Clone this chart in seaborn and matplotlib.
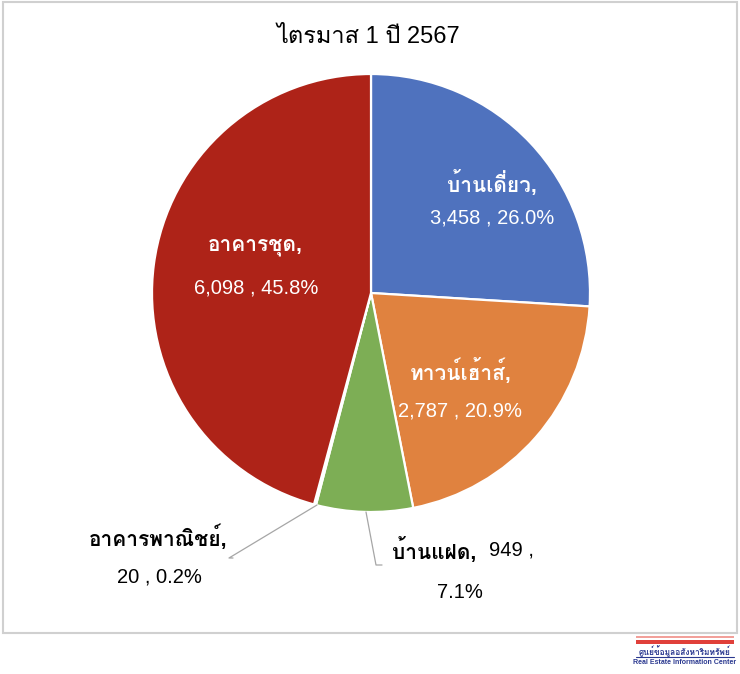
import matplotlib
matplotlib.use("Agg")
import matplotlib.pyplot as plt
import matplotlib.patches as mpatches
from matplotlib.lines import Line2D
import seaborn as sns

# data
categories = ["บ้านเดี่ยว", "ทาวน์เฮ้าส์", "บ้านแฝด", "อาคารพาณิชย์", "อาคารชุด"]
units = [3458, 2787, 949, 20, 6098]
shares = [26.0, 20.9, 7.1, 0.2, 45.8]
title = "ไตรมาส 1 ปี 2567"

sns.set_theme(style="white")
plt.rcParams["font.family"] = ["Liberation Sans", "Loma"]

colors = sns.color_palette(["#4F72BE", "#E0823F", "#7DAE55", "#FFC000", "#AE2318"])

W, H = 740, 674
cx, cy, r = 371, 293, 219   # pie centre / radius in pixels

fig = plt.figure(figsize=(W / 100, H / 100), dpi=100)
ax = fig.add_axes([0, 0, 1, 1])
ax.pie(units, colors=colors, startangle=90, counterclock=False, radius=1,
       wedgeprops=dict(edgecolor="white", linewidth=1.6))
ax.set_xlim(-cx / r, (W - cx) / r)
ax.set_ylim((cy - H) / r, cy / r)
ax.set_aspect("auto")
ax.axis("off")


def px(x, y):
    return (x - cx) / r, (cy - y) / r


# label layout (pixel positions of first / second line, text colour)
layout = [
    ((492, 183), (492, 218), "white"),
    ((461, 371), (460, 411), "white"),
    ((392, 550), (460, 593), "black"),
    ((158, 537), (159, 577), "black"),
    ((255, 247), (256, 288), "white"),
]
for i, (cat, n, s) in enumerate(zip(categories, units, shares)):
    p1, p2, col = layout[i]
    if cat == "บ้านแฝด":
        # Thai part bold, number regular on the same line
        ax.text(*px(*p1), f"{cat},", ha="left", va="center",
                fontsize=15, fontweight="bold", color=col)
        ax.text(*px(489, p1[1]), f"{n:,} ,", ha="left", va="center",
                fontsize=14.5, color=col)
        line2 = f"{s:.1f}%"
    else:
        ax.text(*px(*p1), f"{cat},", ha="center", va="center", fontsize=15,
                fontweight="bold", color=col)
        line2 = f"{n:,} , {s:.1f}%"
    ax.text(*px(*p2), line2, ha="center", va="center", fontsize=14.5, color=col)

# leader lines
for pts in ([(317, 505), (229, 558), (233, 558)],
            [(366, 512), (376, 565), (382, 565)]):
    xs, ys = zip(*[px(*p) for p in pts])
    ax.add_line(Line2D(xs, ys, color="#A6A6A6", linewidth=0.9))

ax.text(*px(368, 37), title, ha="center", va="center", fontsize=17, color="black")

# chart border
fig.patches.append(mpatches.Rectangle((3 / W, 1 - 633 / H), 734 / W, 631 / H,
                                      transform=fig.transFigure, fill=False,
                                      edgecolor="#D0D0D0", linewidth=1.5))

# logo
fig.patches.append(mpatches.Rectangle((636 / W, 1 - 638 / H), 98 / W, 2.5 / H,
                                      transform=fig.transFigure, color="#F2A09A", linewidth=0))
fig.patches.append(mpatches.Rectangle((636 / W, 1 - 644 / H), 98 / W, 4.5 / H,
                                      transform=fig.transFigure, color="#E0403A", linewidth=0))
fig.text(685 / W, 1 - 651 / H, "ศูนย์ข้อมูลอสังหาริมทรัพย์", ha="center", va="center",
         fontsize=6, fontweight="bold", color="#2B3990")
fig.add_artist(Line2D([636 / W, 734 / W], [1 - 657 / H, 1 - 657 / H],
                      transform=fig.transFigure, color="#2B3990", linewidth=0.8))
fig.text(685 / W, 1 - 663 / H, "Real Estate Information Center", ha="center", va="center",
         fontsize=5, fontweight="bold", color="#2B3990")

fig.savefig("out.png", dpi=100)
